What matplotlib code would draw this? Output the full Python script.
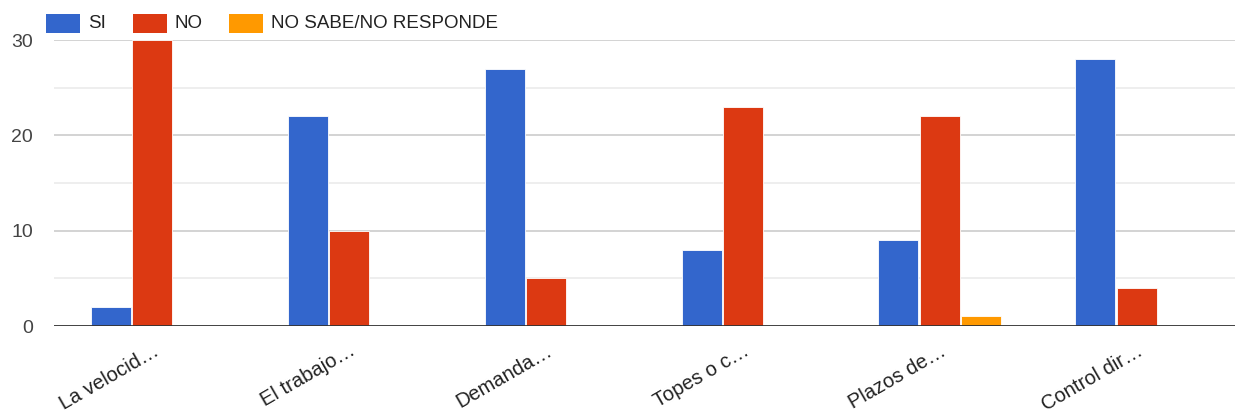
import matplotlib
matplotlib.use("Agg")
import matplotlib.pyplot as plt
from matplotlib.patches import Rectangle
import numpy as np

plt.rcParams['font.family'] = ['Liberation Sans', 'DejaVu Sans']

categories = ["La velocid…", "El trabajo…", "Demanda…", "Topes o c…", "Plazos de…", "Control dir…"]
series_names = ["SI", "NO", "NO SABE/NO RESPONDE"]
si_values = [2, 22, 27, 8, 9, 28]
no_values = [30, 10, 5, 23, 22, 4]
nsnr_values = [0, 0, 0, 0, 1, 0]
colors = ["#3366cc", "#dc3912", "#ff9900"]
y_ticks = [0, 10, 20, 30]

W, H = 1238, 415
fig = plt.figure(figsize=(W / 100, H / 100), dpi=100)
ax = fig.add_axes([54 / W, 1 - 326 / H, (1235 - 54) / W, (326 - 40) / H])

x = np.arange(len(categories))
bw = 0.203
step = 0.21
for i, (vals, col) in enumerate(zip([si_values, no_values, nsnr_values], colors)):
    ax.bar(x + (i - 1) * step, vals, width=bw, color=col, edgecolor="white",
           linewidth=0.6, zorder=3)

ax.set_xlim(-0.5, len(categories) - 0.5)
ax.set_ylim(0, 30)

# gridlines: major every 10, minor every 5
for v in [5, 15, 25]:
    ax.axhline(v, color="#ebebeb", linewidth=1.2, zorder=1)
for v in [10, 20, 30]:
    ax.axhline(v, color="#cccccc", linewidth=1.2, zorder=1)
ax.axhline(0, color="#333333", linewidth=1.3, zorder=4)

for s in ax.spines.values():
    s.set_visible(False)

ax.set_yticks(y_ticks)
ax.set_yticklabels([str(t) for t in y_ticks])
ax.tick_params(axis="y", length=0, pad=15, labelsize=14, labelcolor="#444444")

ax.set_xticks(x)
ax.set_xticklabels(categories, rotation=30, ha="right", va="top",
                   rotation_mode="anchor")
ax.tick_params(axis="x", length=0, pad=11, labelsize=14.5, labelcolor="#222222")

# legend across the top
legend_boxes = [(46, 88), (133, 175), (229, 271)]
for name, col, (bx, tx) in zip(series_names, colors, legend_boxes):
    fig.add_artist(Rectangle((bx / W, 1 - 33 / H), 34 / W, 19 / H,
                             transform=fig.transFigure, facecolor=col,
                             edgecolor="none"))
    fig.text(tx / W, 1 - 24 / H, name, fontsize=13.5, color="#222222",
             ha="left", va="center")

fig.savefig("out.png", dpi=100)
